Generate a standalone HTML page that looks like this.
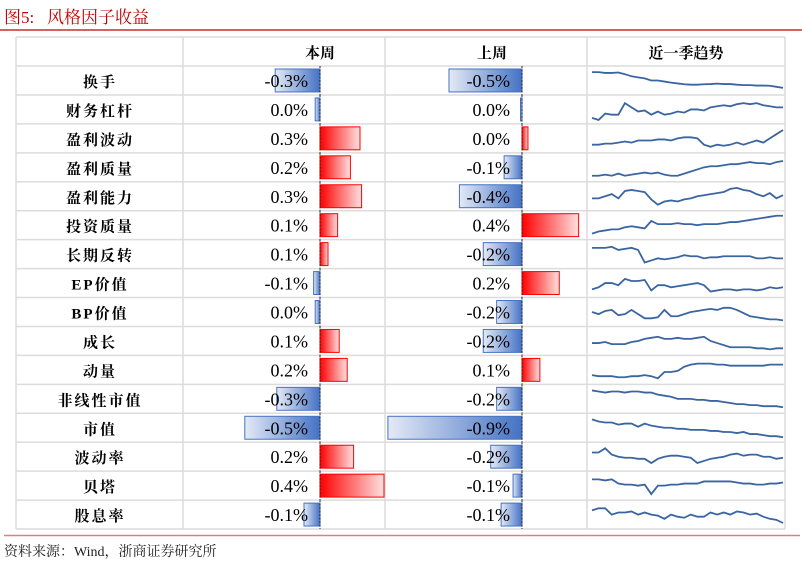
<!DOCTYPE html>
<html><head><meta charset="utf-8">
<style>
body{margin:0;background:#fff;width:802px;height:566px;overflow:hidden;position:relative;font-family:"Liberation Serif","Noto Serif CJK SC",serif}
.title{position:absolute;left:4px;top:3px;font-size:17px;color:#c00000;font-family:"Liberation Serif","Noto Serif CJK SC",serif}
.foot{position:absolute;left:4px;top:541px;font-size:14px;color:#222}
</style></head><body>
<div class="title">图5:&nbsp;&nbsp;&nbsp;风格因子收益</div>
<svg id="chart" width="802" height="566" style="position:absolute;left:0;top:0">
<defs>
<linearGradient id="gb" x1="0" x2="1"><stop offset="0" stop-color="#e4eaf6"/><stop offset="1" stop-color="#4472c4"/></linearGradient>
<linearGradient id="gr" x1="0" x2="1"><stop offset="0" stop-color="#ff0000"/><stop offset="1" stop-color="#ffe0e0"/></linearGradient>
</defs>
</svg>
<div class="foot">资料来源：Wind，浙商证券研究所</div>
<script>
const factors=["换手","财务杠杆","盈利波动","盈利质量","盈利能力","投资质量","长期反转","EP价值","BP价值","成长","动量","非线性市值","市值","波动率","贝塔","股息率"];
const thisWeek=[-0.28,-0.03,0.25,0.19,0.26,0.11,0.05,-0.04,-0.03,0.12,0.17,-0.27,-0.47,0.21,0.4,-0.1];
const lastWeek=[-0.49,-0.01,0.04,-0.12,-0.42,0.38,-0.26,0.25,-0.17,-0.26,0.12,-0.17,-0.9,-0.21,-0.06,-0.14];
const thisLabels=["-0.3%","0.0%","0.3%","0.2%","0.3%","0.1%","0.1%","-0.1%","0.0%","0.1%","0.2%","-0.3%","-0.5%","0.2%","0.4%","-0.1%"];
const lastLabels=["-0.5%","0.0%","0.0%","-0.1%","-0.4%","0.4%","-0.2%","0.2%","-0.2%","-0.2%","0.1%","-0.2%","-0.9%","-0.2%","-0.1%","-0.1%"];
const trend0=[9,9,8.6,8.6,8.8,8,7,6.5,6,5,5,4.5,4,3.6,3.2,3,3,3.2,3.3,3.5,3.3,3.3,3,2.8,2.8,2.6,2.6,2.5,2,1.5];
const trend1=[1,0,3,2.5,2.5,8,6,4,4.5,2.5,4,2.5,3,4,3.5,5,5,4.5,6,6.5,7,6.5,7.5,8,7.5,8,7,6.5,6,6];
const trend2=[2,2,2.5,2.5,3,3.5,3,4,4,4,4.5,4.5,4,5,5.5,5.5,5,2,1,2,1.5,2,3,2,3,4,3,5,7,9];
const trend3=[1,1,1.5,1,2,1,1.5,2,2.5,2,2.5,1.5,1,1,2,3,4,5,5.5,5.5,6,6.5,6.5,7,7.5,7,7,6.5,7.5,8];
const trend4=[4,4,5,6,4,7.5,8,7.5,7,3.5,1,2.5,3,2.5,3.5,4,5,5.5,6,6.5,7,8.5,9,8,7.5,6,5,6.5,4,5.5];
const trend5=[1,2,2.5,3,3,4,4.5,4,3.5,7,5.5,5.5,5.5,6,5.5,5.5,5,5.5,5.5,5.5,6,6.5,6.5,7,7.5,8,8.5,9,9.5,9.5];
const trend6=[8,8,8,8.5,7,7.5,8,7,1,2,3,2.5,3,3.5,4.5,4,4,3,3.5,3.5,4,4,4,4,4,3,3,3.5,3,3];
const trend7=[2,3,5,5,4,7,6,6,6.5,1.5,4,4,3,3.5,4,4.5,5,4,1,1.5,2,2,1.5,2,2,1.5,2,3,2.5,3];
const trend8=[5,4,5.5,6,3.5,4,6,4,2,2,2.5,6,3,3,4,5,5.5,6,6.5,6,7,7,6,4.5,3,2.5,2,1.5,1.5,1];
const trend9=[4,4,4.5,3.5,3.5,3.5,4.5,5,6,6.5,7,6,6,6.5,6,6,6.5,7,5,4,3,2,2,2,2,1.5,1.5,1,1.5,1.5];
const trend10=[2.5,2,2,2,1.5,1.5,2,2,2.5,2,1,4,4,4.5,6.5,7.5,8,8,8,7.5,7.5,7,7,7,7,7,7,7.5,7.5,7.5];
const trend11=[9,8.5,8,8.5,8.5,8,8.5,8.5,8,8,7,6.5,6,5,5,5,4.5,4.5,4,4,3.5,3,2.5,2.5,2,2,1.5,1.5,1.5,1];
const trend12=[9,8,7.5,7.5,6.5,7,7,5.5,7,6,5.5,5,5,4.5,4.5,4,4,4,3.5,3.5,3,3,2.5,3,2,2,1.5,1,1,0.5];
const trend13=[7,7,9,6,5,4.5,4.5,4,4,2,4,5,5.5,5.5,5,4.5,2,3,4,4.5,5,6,6.5,5.5,6,6,5,5,4,4.5];
const trend14=[8,8,7.5,8,6,5.5,5.5,5,5.5,1,5,5,5.5,5.5,6,6,6,7,7,7,7,7,6.5,6,6,5.5,5.5,6,6,6.5];
const trend15=[7,8,8,5,6,6,6.5,5,6,5,4.5,3,5,4,3.5,5,4,4,6,5,6,5,6.5,6,5,5.5,4,3,2.5,1];
const trends=[trend0,trend1,trend2,trend3,trend4,trend5,trend6,trend7,trend8,trend9,trend10,trend11,trend12,trend13,trend14,trend15];

const svg=document.getElementById('chart');
const NS='http://www.w3.org/2000/svg';
const top0=66,rowH=28.94,L=16,R=785;
const cols=[16,183,385,587,785];
function mk(t,a){const e=document.createElementNS(NS,t);for(const k in a)e.setAttribute(k,a[k]);svg.appendChild(e);return e;}
const xThis=v=>320+v*160;
const xLast=v=>522+v*149;
const rowY=i=>top0+i*rowH;
const grid=[];
for(let i=0;i<=factors.length;i++)grid.push(rowY(i));
let g=mk('path',{d:'M'+L+' 37H'+R+grid.map(y=>'M'+L+' '+y+'H'+R).join('')+cols.map(x=>'M'+x+' 37V'+rowY(factors.length)).join(''),stroke:'#dcdcdc','stroke-width':1.5,fill:'none'});


let ln=mk('line',{x1:0,x2:802,y1:30,y2:30,stroke:'#c00000','stroke-width':1.2});


let ln2=mk('line',{x1:4,x2:800,y1:535.5,y2:535.5,stroke:'#d98080','stroke-width':1.5});


const heads=[["本周",320],["上周",492],["近一季趋势",686]];
heads.forEach(h=>{const t=mk('text',{x:h[1],y:58,'text-anchor':'middle','font-size':15,'font-weight':'bold','font-family':'"Noto Serif CJK SC",serif'});t.textContent=h[0];

});
function bar(x0,v,fx,y,name){const x1=fx(v),xa=fx(0);const xl=Math.min(x1,xa),w=Math.max(Math.abs(x1-xa),1.5);
const r=mk('rect',{x:xl,y:y+3,width:w,height:rowH-6,fill:v<0?'url(#gb)':'url(#gr)',stroke:v<0?'#4472c4':'#ff0000','stroke-width':1});

}
factors.forEach((f,i)=>{const y=rowY(i);
const n=mk('text',{x:100,y:y+21,'text-anchor':'middle','font-size':15,'font-weight':'bold','letter-spacing':'2','font-family':'"Liberation Serif","Noto Serif CJK SC",serif'});n.textContent=f;


bar(0,thisWeek[i],xThis,y,'this-week-bar');
bar(0,lastWeek[i],xLast,y,'last-week-bar');
[[320],[522]].forEach(a=>{const d=mk('line',{x1:a[0],x2:a[0],y1:y,y2:y+rowH,stroke:'#222','stroke-width':1,'stroke-dasharray':'2,1.5'});

});
const t1=mk('text',{x:308,y:y+21,'text-anchor':'end','font-size':18});t1.textContent=thisLabels[i];


const t2=mk('text',{x:510,y:y+21,'text-anchor':'end','font-size':18});t2.textContent=lastLabels[i];


const tr=trends[i];const sx=k=>592+k*(191/(tr.length-1));const sy=v=>y+25-v*2.1;
const p=mk('polyline',{points:tr.map((v,k)=>sx(k)+','+sy(v)).join(' '),fill:'none',stroke:'#3b65a0','stroke-width':1.8});


});
</script>
</body></html>
